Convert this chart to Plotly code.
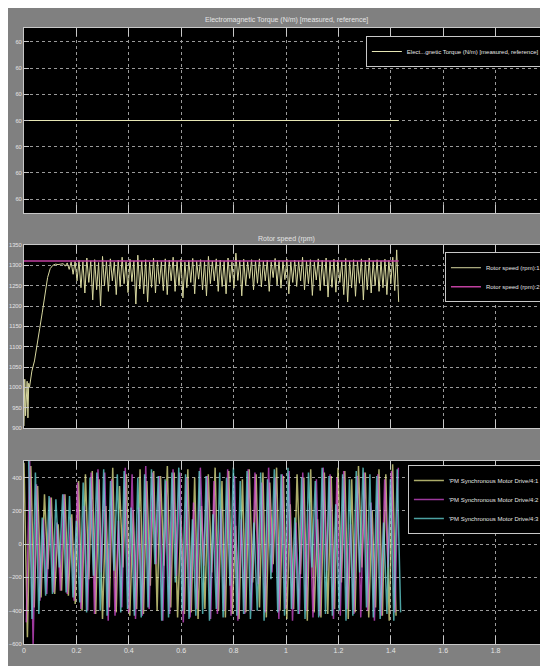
import numpy as np
import plotly.graph_objects as go
from plotly.subplots import make_subplots

# ---------------- data ----------------
torque_time = [0.0, 1.43]
torque_value = [60.0, 60.0]
torque_ticks = [59.997, 59.998, 59.999, 60.0, 60.001, 60.002, 60.003]
torque_ticktext = ["60", "60", "60", "60", "60", "60", "60"]

speed_ref_time = [0.0, 1.43]
speed_ref = [1311, 1311]

speed_start_time = [0.0, 0.003, 0.006, 0.009, 0.012, 0.015, 0.018, 0.021, 0.024, 0.03,
                    0.04, 0.05, 0.06, 0.07, 0.08, 0.09, 0.10, 0.11, 0.12, 0.13, 0.14]
speed_start = [905, 1020, 930, 1000, 1015, 925, 1010, 1000, 1012, 1040,
               1065, 1110, 1145, 1185, 1230, 1270, 1292, 1300, 1303, 1302, 1303]

speed_peaks = [1304, 1306, 1308, 1310, 1312, 1309, 1318, 1311, 1314, 1307,
               1322, 1310, 1316, 1308, 1313, 1320, 1309, 1315, 1311, 1325,
               1310, 1314, 1308, 1318, 1312, 1309, 1316, 1313, 1320, 1310,
               1315, 1308, 1312, 1317, 1310, 1314, 1309, 1322, 1311, 1316,
               1313, 1310, 1318, 1308, 1330, 1312, 1315, 1309, 1314, 1311,
               1316, 1310, 1313, 1308, 1317, 1312, 1310, 1315, 1309, 1313,
               1311, 1320, 1310, 1314, 1308, 1316, 1312, 1318, 1310, 1315,
               1313, 1309, 1317, 1311, 1314, 1310, 1316, 1312, 1318, 1310,
               1314, 1311, 1315, 1312, 1320, 1338]
speed_troughs = [1298, 1290, 1278, 1262,
                 1245, 1232, 1258, 1215, 1240, 1200, 1250,
                 1236, 1262, 1228, 1248, 1255, 1233, 1260, 1205, 1242, 1230,
                 1210, 1246, 1232, 1255, 1238, 1228, 1262, 1236, 1250, 1220,
                 1245, 1258, 1230, 1266, 1240, 1225, 1255, 1262, 1236, 1248,
                 1230, 1258, 1244, 1263, 1225, 1250, 1268, 1240, 1256, 1247,
                 1262, 1236, 1270, 1252, 1244, 1265, 1230, 1258, 1248, 1262,
                 1240, 1255, 1226, 1264, 1238, 1250, 1222, 1246, 1234, 1258,
                 1228, 1210, 1245, 1224, 1256, 1215, 1240, 1232, 1250, 1236,
                 1245, 1228, 1255, 1238, 1210]
speed_osc_span = [0.15, 1.43]

current_a = [490, -560, 470, -380, 350, -320, 300, -150, 280, -300, 120, -280, 300, -310, 180, -360, 380, -400, 420, -210,
             440, -420, 390, -450, 230, -380, 460, -410, 350, -140,
             420, -430, 200, -390, 450, -420, 380, -250, 440, -400,
             410, -130, 470, -380, 430, -440, 160, -420, 450, -410,
             400, -450, 230, -390, 420, -170, 460, -400, 380, -440,
             440, -420, 110, -450, 390, -410, 450, -230, 420, -380,
             430, -440, 370, -120, 460, -400, 410, -450, 240, -390,
             420, -180, 400, -460, 450, -410, 150, -440, 430, -420,
             410, -390, 460, -230, 440, -450, 390, -410, 470, -140,
             430, -440, 200, -380, 450, -430, 420, -460, 480, -430]
current_b = [-470, 500, -600, 360, -340, 150, -300, 280, -290, 130, -280, 300, -300, 160, -340, 370, -390, 230, -400, 430,
             -420, 450, -170, 430, -460, 390, -430, 140, -380, 460,
             -410, 420, -450, 220, -430, 470, -390, 430, -120, 410,
             -460, 380, -420, 450, -190, 430, -470, 400, -440, 250,
             -390, 460, -130, 410, -450, 380, -420, 210, -400, 450,
             -430, 410, -460, 150, -420, 450, -400, 430, -240, 370,
             -410, 460, -170, 400, -450, 420, -390, 440, -460, 130,
             -420, 430, -400, 220, -440, 390, -430, 460, -160, 420,
             -450, 400, -430, 440, -390, 120, -420, 410, -440, 430,
             -400, 250, -460, 420, -430, 390, -140, 440, -410, 460]
current_c = [520, -450, 430, -420, 160, -310, 290, -300, 270, -140, 300, -290, 290, -320, 140, -350, 370, -410, 400, -190,
             430, -400, 450, -430, 380, -160, 420, -410, 440, -390,
             220, -430, 400, -440, 420, -380, 450, -120, 410, -460,
             390, -440, 430, -230, 460, -400, 420, -450, 150, -430,
             440, -420, 410, -460, 180, -390, 430, -440, 400, -250,
             460, -430, 380, -420, 440, -450, 130, -400, 430, -460,
             390, -210, 450, -410, 420, -430, 460, -390, 160, -420,
             400, -450, 430, -140, 380, -440, 460, -420, 410, -430,
             240, -400, 420, -460, 390, -430, 440, -170, 460, -380,
             420, -440, 410, -450, 130, -420, 390, -460, 450, -410]
phase_lag = [0.0, 0.0087, 0.0175]
current_span = 1.42

x_ticks = [0, 0.2, 0.4, 0.6, 0.8, 1.0, 1.2, 1.4, 1.6, 1.8]
x_ticktext = ["0", "0.2", "0.4", "0.6", "0.8", "1", "1.2", "1.4", "1.6", "1.8"]
speed_ticks = [900, 950, 1000, 1050, 1100, 1150, 1200, 1250, 1300, 1350]
current_ticks = [-600, -400, -200, 0, 200, 400]

# ---------------- build ----------------
speed_osc = []
for hi, lo in zip(speed_peaks, speed_troughs):
    speed_osc += [hi, lo]
speed_osc_time = np.linspace(speed_osc_span[0], speed_osc_span[1], len(speed_osc))
speed_time = list(speed_start_time) + list(speed_osc_time)
speed_vals = list(speed_start) + speed_osc

FONT = "Liberation Sans Narrow, Liberation Sans, Arial, sans-serif"
BG = "#808080"
TXT = "#e4e4e4"

fig = make_subplots(rows=3, cols=1, shared_xaxes=False, vertical_spacing=0.05)

fig.add_trace(go.Scatter(x=torque_time, y=torque_value, mode="lines",
                         line=dict(color="#e6e6b4", width=1.2),
                         name="Elect...gnetic Torque (N/m) [measured, reference]",
                         legend="legend"), row=1, col=1)

fig.add_trace(go.Scatter(x=speed_time, y=speed_vals, mode="lines",
                         line=dict(color="#d8d8a0", width=1),
                         name="Rotor speed (rpm):1", legend="legend2"), row=2, col=1)
fig.add_trace(go.Scatter(x=speed_ref_time, y=speed_ref, mode="lines",
                         line=dict(color="#c040a0", width=1.5),
                         name="Rotor speed (rpm):2", legend="legend2"), row=2, col=1)

cur_colors = ["#e6e68c", "#d24cd2", "#66d8d8"]
cur_names = ["'PM Synchronous Motor Drive/4:1", "'PM Synchronous Motor Drive/4:2",
             "'PM Synchronous Motor Drive/4:3"]
for vals, lag, col, nm in zip([current_a, current_b, current_c], phase_lag, cur_colors, cur_names):
    tt = lag + np.linspace(0, current_span, len(vals))
    fig.add_trace(go.Scatter(x=tt, y=vals, mode="lines", line=dict(color=col, width=1.5),
                             opacity=0.75, name=nm, legend="legend3"), row=3, col=1)

doms = [[0.6997, 1.0], [0.3506, 0.6477], [0.0, 0.2971]]
for i in range(3):
    ax = "xaxis" if i == 0 else f"xaxis{i+1}"
    ay = "yaxis" if i == 0 else f"yaxis{i+1}"
    fig.layout[ax].update(range=[0, 2], tickvals=x_ticks, ticktext=x_ticktext,
                          showticklabels=(i == 2), showgrid=True, gridcolor="#9a9a9a",
                          griddash="dot", gridwidth=1, zeroline=False, automargin=False,
                          showline=True, linecolor="#c8c8c8", linewidth=1, mirror="allticks",
                          ticks="inside", ticklen=8, tickcolor="#c8c8c8",
                          tickfont=dict(family=FONT, size=7, color=TXT), domain=[0, 1])
    fig.layout[ay].update(domain=doms[i], showgrid=True, gridcolor="#9a9a9a", griddash="dot",
                          zeroline=False, showline=True, linecolor="#c8c8c8", linewidth=1,
                          mirror=True, ticks="inside", ticklen=5, tickcolor="#c8c8c8",
                          automargin=False, ticklabelstandoff=0,
                          tickfont=dict(family=FONT, size=5.8, color=TXT))

fig.update_yaxes(range=[59.99647, 60.00353], tickvals=torque_ticks, ticktext=torque_ticktext, row=1, col=1)
fig.update_yaxes(range=[900, 1350], tickvals=speed_ticks, row=2, col=1)
fig.update_yaxes(range=[-600, 500], tickvals=current_ticks, row=3, col=1)

leg_common = dict(bgcolor="#000000", bordercolor="#c8c8c8", borderwidth=1,
                  font=dict(family=FONT, size=6, color=TXT), xanchor="right", yanchor="top",
                  tracegroupgap=0, itemwidth=30)
fig.update_layout(
    width=540, height=658,
    margin=dict(l=16, r=0, t=20, b=22),
    paper_bgcolor=BG, plot_bgcolor="#000000",
    showlegend=True,
    legend=dict(x=0.994, y=0.987, **leg_common),
    legend2=dict(x=0.998, y=0.636, **leg_common),
    legend3=dict(x=0.996, y=0.2906, **leg_common),
    annotations=[
        dict(text="Electromagnetic Torque (N/m) [measured, reference]", x=0.5, y=1.0227,
             xref="paper", yref="paper", showarrow=False,
             font=dict(family=FONT, size=7, color=TXT)),
        dict(text="Rotor speed (rpm)", x=0.5, y=0.667, xref="paper", yref="paper",
             showarrow=False, font=dict(family=FONT, size=7, color=TXT)),
    ],
)

fig.write_html("out.html", config={"displayModeBar": False})
